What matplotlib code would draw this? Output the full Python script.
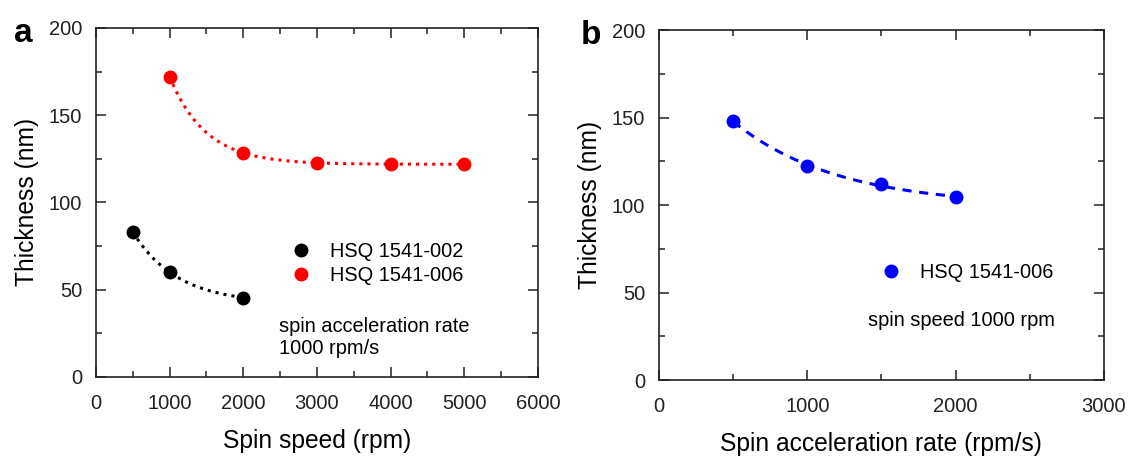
import numpy as np
import matplotlib.pyplot as plt
from matplotlib.ticker import MultipleLocator

plt.rcParams['font.family'] = ['Liberation Sans', 'DejaVu Sans']

# Panel a data: thickness vs spin speed
speed_002 = [500, 1000, 2000]
thick_002 = [83, 60, 45.5]
speed_006 = [1000, 2000, 3000, 4000, 5000]
thick_006 = [172, 128.5, 122.5, 122, 122]

# Panel b data: thickness vs spin acceleration rate
accel_006 = [500, 1000, 1500, 2000]
thick_accel = [148, 122.5, 112, 104.5]


def exp_fit(x, y):
    # y = y0 + A*exp(-x/t), grid search on t, least squares for y0 and A
    x = np.asarray(x, float)
    y = np.asarray(y, float)
    best = None
    for t in np.linspace(100, 5000, 2000):
        M = np.column_stack([np.ones_like(x), np.exp(-x / t)])
        coef, *_ = np.linalg.lstsq(M, y, rcond=None)
        err = np.sum((M @ coef - y) ** 2)
        if best is None or err < best[0]:
            best = (err, t, coef)
    _, t, coef = best
    xs = np.linspace(x.min(), x.max(), 200)
    return xs, coef[0] + coef[1] * np.exp(-xs / t)


def style_axes(ax, xmax, xmajor):
    ax.set_xlim(0, xmax)
    ax.set_ylim(0, 200)
    ax.xaxis.set_major_locator(MultipleLocator(xmajor))
    ax.xaxis.set_minor_locator(MultipleLocator(xmajor / 2))
    ax.yaxis.set_major_locator(MultipleLocator(50))
    ax.yaxis.set_minor_locator(MultipleLocator(25))
    ax.tick_params(which='both', direction='in', top=True, right=True,
                   labelsize=14.5, width=1.1, colors='#222222')
    ax.tick_params(which='major', length=7)
    ax.tick_params(which='minor', length=4)
    ax.tick_params(axis='x', which='major', pad=12)
    ax.tick_params(axis='y', which='major', pad=10)
    for s in ax.spines.values():
        s.set_linewidth(1.2)
        s.set_color('#222222')
    ax.set_ylabel('Thickness (nm)', fontsize=17.7, labelpad=7)


fig = plt.figure(figsize=(11.29, 4.58), dpi=100)
ax1 = fig.add_axes([0.085, 0.177, 0.3915, 0.762])
ax2 = fig.add_axes([0.5837, 0.170, 0.394, 0.764])

# Panel a
xs, ys = exp_fit(speed_002, thick_002)
ax1.plot(xs, ys, ':', color='black', lw=2.2)
xs, ys = exp_fit(speed_006, thick_006)
ax1.plot(xs, ys, ':', color='red', lw=2.2)
ax1.plot(speed_002, thick_002, 'o', color='black', ms=9, label='HSQ 1541-002')
ax1.plot(speed_006, thick_006, 'o', color='red', ms=9, label='HSQ 1541-006')
style_axes(ax1, 6000, 1000)
ax1.set_xlabel('Spin speed (rpm)', fontsize=17.7, labelpad=12)
ax1.legend(loc='upper left', bbox_to_anchor=(0.414, 0.414), frameon=False,
           fontsize=14.4, handlelength=1.2, handletextpad=0.85,
           borderpad=0, labelspacing=0.25)
ax1.text(0.414, 0.113, 'spin acceleration rate\n1000 rpm/s', transform=ax1.transAxes,
         fontsize=14.4, va='center', ha='left', linespacing=1.25)
ax1.text(-0.185, 0.985, 'a', transform=ax1.transAxes, fontsize=24,
         fontweight='bold', va='center')

# Panel b
xs, ys = exp_fit(accel_006, thick_accel)
ax2.plot(xs, ys, '--', color='blue', lw=2.2, dashes=(3, 2.5))
ax2.plot(accel_006, thick_accel, 'o', color='blue', ms=9, label='HSQ 1541-006')
style_axes(ax2, 3000, 1000)
ax2.set_xlabel('Spin acceleration rate (rpm/s)', fontsize=17.7, labelpad=12)
ax2.legend(loc='upper left', bbox_to_anchor=(0.4715, 0.364), frameon=False,
           fontsize=14.4, handlelength=1.2, handletextpad=0.85, borderpad=0)
ax2.text(0.47, 0.171, 'spin speed 1000 rpm', transform=ax2.transAxes,
         fontsize=14.4, va='center', ha='left')
ax2.text(-0.175, 0.985, 'b', transform=ax2.transAxes, fontsize=24,
         fontweight='bold', va='center')

fig.savefig('out.png', dpi=100)
